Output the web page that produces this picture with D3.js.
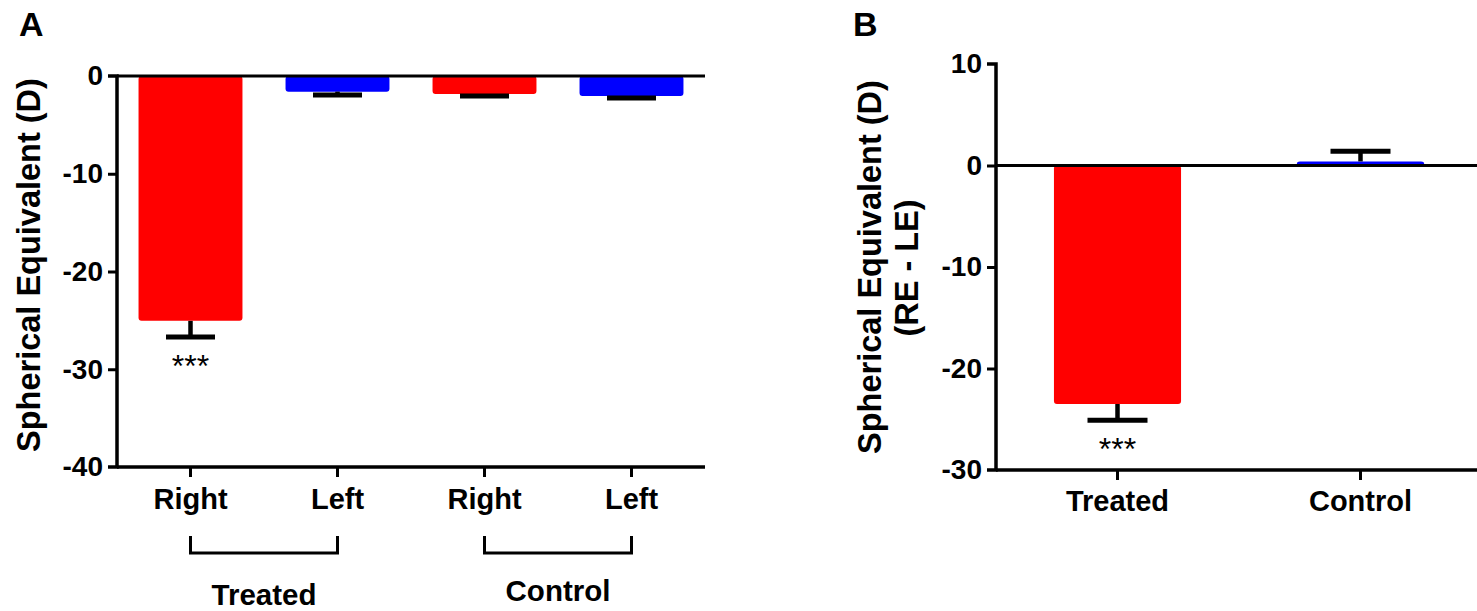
<!DOCTYPE html>
<html><head><meta charset="utf-8">
<script src="https://cdn.jsdelivr.net/npm/d3@7"></script>
<style>
html,body{margin:0;padding:0;background:#fff;}
svg text{font-family:"Liberation Sans",Arial,sans-serif;}
</style></head>
<body>
<svg id="chart" width="1477" height="611"></svg>
<script>
// ---- Data ----
const catsA = ["Treated-Right","Treated-Left","Control-Right","Control-Left"];
const labelsA = ["Right","Left","Right","Left"];
const groupsA = ["Treated","Control"];
const valuesA = [-25.05,-1.6,-1.84,-2.05];
const errorsA = [1.65,0.35,0.2,0.2];
const colorsA = ["#ff0000","#0000ff","#ff0000","#0000ff"];
const sigA = ["***","","",""];
const ticksA = [0,-10,-20,-30,-40];

const catsB = ["Treated","Control"];
const valuesB = [-23.5,0.4];
const errorsB = [1.6,1.0];
const colorsB = ["#ff0000","#0000ff"];
const sigB = ["***",""];
const ticksB = [10,0,-10,-20,-30];

const svg = d3.select("#chart");
const font = "Liberation Sans, Arial, sans-serif";

function panel(o){
  const g = svg.append("g");
  const x = d3.scaleBand().domain(o.cats).range(o.xr).paddingInner(o.pi).paddingOuter(o.pi/2);
  const y = d3.scaleLinear().domain(o.yd).range(o.yr);
  // bars
  o.cats.forEach((c,i)=>{
    const v=o.values[i];
    const y0=y(0), y1=y(v);
    g.append("rect").attr("x",x(c)).attr("width",x.bandwidth())
      .attr("y",Math.min(y0,y1)).attr("height",Math.abs(y1-y0)).attr("rx",3)
      .attr("fill",o.colors[i]);
  });
  // error bars
  o.cats.forEach((c,i)=>{
    const v=o.values[i], e=o.errors[i];
    const cx=x(c)+x.bandwidth()/2;
    const end = v<0 ? v-e : v+e;
    g.append("line").attr("x1",cx).attr("x2",cx).attr("y1",y(v)).attr("y2",y(end))
      .attr("stroke","#000").attr("stroke-width",4.5);
    g.append("line").attr("x1",cx-o.cap/2).attr("x2",cx+o.cap/2).attr("y1",y(end)).attr("y2",y(end))
      .attr("stroke","#000").attr("stroke-width",5);
    if(o.sig[i]){
      g.append("text").attr("x",cx).attr("y",y(end)+40).attr("text-anchor","middle")
        .attr("font-size",32).attr("fill","#000").text(o.sig[i]);
    }
  });
  // y axis
  const ax = d3.axisLeft(y).tickValues(o.ticks).tickSize(9).tickPadding(5).tickFormat(d=>String(d));
  const ya = g.append("g").attr("transform",`translate(${o.xr[0]},0)`).call(ax);
  ya.select(".domain").attr("stroke-width",3.5).attr("d",`M-9,${o.yr[1]}H0V${o.yr[0]}H-9`);
  ya.selectAll(".tick line").attr("stroke-width",3);
  ya.selectAll(".tick text").attr("font-size",28).attr("font-weight","bold").attr("font-family",font).attr("fill","#000");
  ya.selectAll(".tick").filter(d=>d===o.yd[0]||d===o.yd[1]).select("line").remove();
  // zero line
  g.append("line").attr("x1",o.xr[0]).attr("x2",o.xend).attr("y1",y(0)).attr("y2",y(0))
    .attr("stroke","#000").attr("stroke-width",3);
  // bottom axis
  const bx = d3.axisBottom(x).tickSize(10).tickPadding(o.lpad).tickFormat((d,i)=>o.labels[i]);
  const xa = g.append("g").attr("transform",`translate(0,${o.yr[0]})`).call(bx);
  xa.select(".domain").attr("stroke-width",3.5).attr("d",`M${o.xr[0]},0H${o.xend}`);
  xa.selectAll(".tick line").attr("stroke-width",3);
  xa.selectAll(".tick text").attr("font-size",29).attr("font-weight","bold").attr("font-family",font).attr("fill","#000");
  return {g,x,y};
}

const A = panel({cats:catsA,labels:labelsA,values:valuesA,errors:errorsA,colors:colorsA,sig:sigA,
  ticks:ticksA,yd:[-40,0],yr:[467,76],xr:[117,705],xend:705,pi:0.293,cap:49,lpad:11});
const B = panel({cats:catsB,labels:catsB,values:valuesB,errors:errorsB,colors:colorsB,sig:sigB,
  ticks:ticksB,yd:[-30,10],yr:[470,64],xr:[996,1482],xend:1477,pi:0.477,cap:60,lpad:10});

// group brackets for panel A
[[0,1],[2,3]].forEach((pair,gi)=>{
  const x1=A.x(catsA[pair[0]])+A.x.bandwidth()/2, x2=A.x(catsA[pair[1]])+A.x.bandwidth()/2;
  A.g.append("path").attr("d",`M${x1},536V553H${x2}V536`).attr("fill","none")
    .attr("stroke","#000").attr("stroke-width",3);
  A.g.append("text").attr("x",(x1+x2)/2).attr("y",gi===0?605:601).attr("text-anchor","middle")
    .attr("font-size",29.5).attr("font-weight","bold").attr("fill","#000").text(groupsA[gi]);
});

// axis titles
svg.append("text").attr("transform","translate(40,265) rotate(-90)").attr("text-anchor","middle")
  .attr("font-size",32.5).attr("font-weight","bold").text("Spherical Equivalent (D)");
svg.append("text").attr("transform","translate(881,267) rotate(-90)").attr("text-anchor","middle")
  .attr("font-size",32.5).attr("font-weight","bold").text("Spherical Equivalent (D)");
svg.append("text").attr("transform","translate(918,268) rotate(-90)").attr("text-anchor","middle")
  .attr("font-size",32.5).attr("font-weight","bold").text("(RE - LE)");

// panel letters
svg.append("text").attr("x",19).attr("y",36).attr("font-size",34).attr("font-weight","bold").text("A");
svg.append("text").attr("x",853).attr("y",36).attr("font-size",34).attr("font-weight","bold").text("B");
</script>
</body></html>
